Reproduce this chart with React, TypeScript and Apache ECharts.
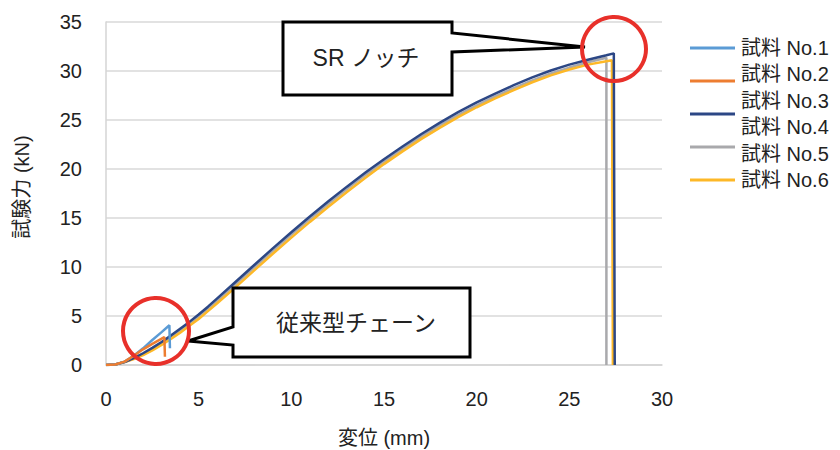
import React, { useEffect, useRef } from "react";
import * as echarts from "echarts";

const seriesNames = ["試料 No.1", "試料 No.2", "試料 No.3", "試料 No.4", "試料 No.5", "試料 No.6"];
const seriesColors = ["#5B9BD5", "#ED7D31", "#2C4785", "#2C4785", "#A9A9AC", "#FDB827"];
const xTicks = [0, 5, 10, 15, 20, 25, 30];
const yTicks = [0, 5, 10, 15, 20, 25, 30, 35];

// 試料 No.1 (従来型チェーン)
const disp1 = [0, 0.5, 1, 1.5, 2, 2.5, 3, 3.42, 3.45];
const load1 = [0, 0.05, 0.35, 0.95, 1.7, 2.55, 3.35, 4.05, 1.7];
// 試料 No.2 (従来型チェーン)
const disp2 = [0, 0.5, 1, 1.5, 2, 2.5, 3.15, 3.18];
const load2 = [0, 0.05, 0.35, 0.95, 1.6, 2.15, 2.85, 0.85];
// 試料 No.3 (SR ノッチ)
const disp3 = [0, 0.5, 1, 1.5, 2, 2.5, 3, 3.5, 4, 4.5, 5, 5.5, 6, 7, 8, 9, 10, 11, 12, 13, 14, 15, 16, 17, 18, 19, 20, 21, 22, 23, 24, 25, 26, 27, 27.4, 27.45];
const load3 = [0, 0.05, 0.3, 0.7, 1.2, 1.75, 2.35, 3.0, 3.7, 4.4, 5.15, 5.95, 6.8, 8.5, 10.2, 11.9, 13.55, 15.15, 16.7, 18.2, 19.65, 21.0, 22.3, 23.55, 24.7, 25.8, 26.8, 27.7, 28.55, 29.35, 30.05, 30.65, 31.15, 31.6, 31.8, 0];
// 試料 No.4
const disp4: number[] = [];
const load4: number[] = [];
// 試料 No.5 (SR ノッチ)
const disp5 = [0, 0.5, 1, 1.5, 2, 2.5, 3, 3.5, 4, 4.5, 5, 5.5, 6, 7, 8, 9, 10, 11, 12, 13, 14, 15, 16, 17, 18, 19, 20, 21, 22, 23, 24, 25, 26, 27, 27.0];
const load5 = [0, 0.05, 0.3, 0.65, 1.1, 1.6, 2.2, 2.8, 3.5, 4.2, 4.95, 5.75, 6.55, 8.25, 9.95, 11.65, 13.3, 14.9, 16.45, 17.95, 19.4, 20.75, 22.05, 23.3, 24.45, 25.5, 26.5, 27.4, 28.25, 29.05, 29.75, 30.35, 30.9, 31.35, 0];
// 試料 No.6 (SR ノッチ)
const disp6 = [0, 0.5, 1, 1.5, 2, 2.5, 3, 3.5, 4, 4.5, 5, 5.5, 6, 7, 8, 9, 10, 11, 12, 13, 14, 15, 16, 17, 18, 19, 20, 21, 22, 23, 24, 25, 26, 27, 27.3, 27.35];
const load6 = [0, 0.05, 0.3, 0.6, 1.0, 1.5, 2.05, 2.65, 3.3, 4.0, 4.7, 5.5, 6.3, 7.95, 9.65, 11.35, 13.0, 14.6, 16.15, 17.65, 19.1, 20.5, 21.8, 23.05, 24.2, 25.3, 26.3, 27.2, 28.05, 28.85, 29.55, 30.15, 30.65, 31.0, 31.1, 0];

const dispSets = [disp1, disp2, disp3, disp4, disp5, disp6];
const loadSets = [load1, load2, load3, load4, load5, load6];
const drawOrder = [4, 5, 2, 0, 1, 3];

const FONT = '"Liberation Sans", "Noto Sans CJK JP", sans-serif';
const TXT = "#222222";

export default function App() {
  const ref = useRef<HTMLDivElement>(null);
  useEffect(() => {
    if (!ref.current) return;
    const chart = echarts.init(ref.current, null, { renderer: "svg" });

    const series = drawOrder.map((i) => ({
      name: seriesNames[i],
      type: "line",
      showSymbol: false,
      symbol: "none",
      z: 2 + drawOrder.indexOf(i),
      data: dispSets[i].map((x, k) => [x, loadSets[i][k]]),
      lineStyle: { color: seriesColors[i], width: 2.5 },
      itemStyle: { color: seriesColors[i] },
    }));

    const legendTextY = (i: number) => 48 + i * 26.4;
    const legendLineIdx = [0, 1, 2, 4, 5];
    const legendGraphics: any[] = [];
    legendLineIdx.forEach((si, k) => {
      legendGraphics.push({
        type: "line",
        shape: { x1: 690, y1: 48 + k * 33, x2: 735, y2: 48 + k * 33 },
        style: { stroke: seriesColors[si], lineWidth: 3 },
        z: 20,
      });
    });
    seriesNames.forEach((n, i) => {
      legendGraphics.push({
        type: "text",
        x: 741,
        y: legendTextY(i),
        style: { text: n, font: `20px ${FONT}`, fill: TXT, textAlign: "left", textVerticalAlign: "middle" },
        z: 20,
      });
    });

    const option: any = {
      animation: false,
      backgroundColor: "#ffffff",
      grid: { left: 106, right: 178, top: 22, bottom: 85, containLabel: false },
      xAxis: {
        type: "value",
        min: 0,
        max: 30,
        interval: 5,
        axisLine: { show: true, lineStyle: { color: "#d4d4d4", width: 1.5 } },
        axisTick: { show: false },
        splitLine: { show: false },
        axisLabel: { color: TXT, fontSize: 20, fontFamily: FONT, margin: 24,
          formatter: (v: number) => (xTicks.includes(v) ? String(v) : "") },
      },
      yAxis: {
        type: "value",
        min: 0,
        max: 35,
        interval: 5,
        axisLine: { show: true, lineStyle: { color: "#d4d4d4", width: 1.5 } },
        axisTick: { show: false },
        splitLine: { show: true, lineStyle: { color: "#d9d9d9", width: 1.5 } },
        axisLabel: { color: TXT, fontSize: 20, fontFamily: FONT, margin: 24,
          formatter: (v: number) => (yTicks.includes(v) ? String(v) : "") },
      },
      series,
      graphic: [
        {
          type: "text",
          x: 22,
          y: 187,
          rotation: Math.PI / 2,
          style: { text: "試験力 (kN)", font: `20px ${FONT}`, fill: TXT, textAlign: "center", textVerticalAlign: "middle" },
        },
        {
          type: "text",
          x: 384,
          y: 438,
          style: { text: "変位 (mm)", font: `20px ${FONT}`, fill: TXT, textAlign: "center", textVerticalAlign: "middle" },
        },
        ...legendGraphics,
        {
          type: "polygon",
          shape: { points: [[283, 22], [452, 22], [452, 33], [585, 47], [452, 52], [452, 95], [283, 95]] },
          style: { fill: "#ffffff", stroke: "#000000", lineWidth: 3, lineJoin: "miter" },
          z: 30,
        },
        {
          type: "text",
          x: 366,
          y: 58,
          style: { text: "SR ノッチ", font: `23px ${FONT}`, fill: TXT, textAlign: "center", textVerticalAlign: "middle" },
          z: 31,
        },
        {
          type: "polygon",
          shape: { points: [[233, 288], [470, 288], [470, 357], [233, 357], [233, 345], [188, 341], [233, 327]] },
          style: { fill: "#ffffff", stroke: "#000000", lineWidth: 3, lineJoin: "miter" },
          z: 30,
        },
        {
          type: "text",
          x: 356,
          y: 323,
          style: { text: "従来型チェーン", font: `23px ${FONT}`, fill: TXT, textAlign: "center", textVerticalAlign: "middle" },
          z: 31,
        },
        {
          type: "circle",
          shape: { cx: 614, cy: 49, r: 32 },
          style: { fill: "none", stroke: "#E8302A", lineWidth: 4 },
          z: 32,
        },
        {
          type: "circle",
          shape: { cx: 156, cy: 331, r: 33 },
          style: { fill: "none", stroke: "#E8302A", lineWidth: 4 },
          z: 32,
        },
      ],
    };
    chart.setOption(option);
    return () => chart.dispose();
  }, []);
  return <div ref={ref} style={{ width: 840, height: 450, position: "absolute", left: 0, top: 0 }} />;
}
